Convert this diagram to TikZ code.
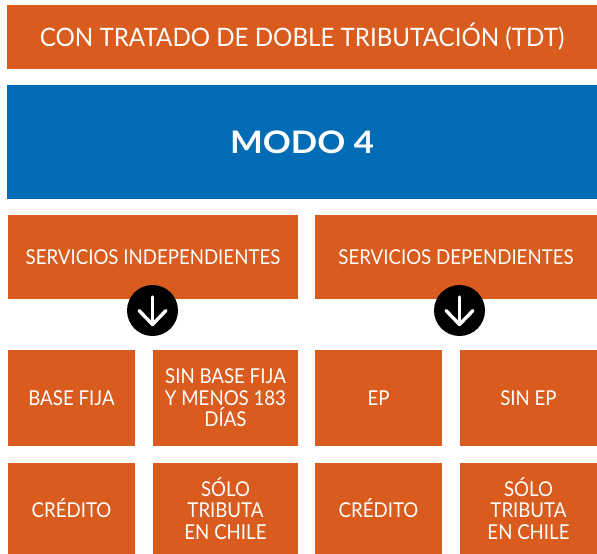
\documentclass[tikz,border=0pt]{standalone}
\usepackage{fontspec}
\setmainfont{Lato}
\newfontfamily\lightfont{Lato}[FakeStretch=0.91]
\newfontfamily\topfont{Lato}[FakeStretch=0.95]
\newfontfamily\boldfont{Lato Bold}[FakeStretch=1.12]
\definecolor{orangeA}{HTML}{D95B1E}
\definecolor{blueA}{HTML}{006CB6}
\begin{document}
\begin{tikzpicture}[x=1pt,y=-1pt,
  box/.style={fill=orangeA, text=white, inner sep=0pt, outer sep=0pt, anchor=north west, align=center,
    font=\lightfont\fontsize{20.5}{21.5}\selectfont},
  bluebox/.style={fill=blueA, text=white, inner sep=0pt, outer sep=0pt, anchor=north west,
    font=\boldfont\fontsize{31}{36}\selectfont},
  circ/.style={circle, fill=black, minimum size=51pt, inner sep=0pt},
  arr/.style={draw=white, line width=3.4pt, line cap=round, line join=round}
]
\useasboundingbox (0,0) rectangle (597,554);
\node[box, minimum width=590pt, minimum height=64pt, font=\topfont\fontsize{25.4}{28}\selectfont] (tdt) at (7,5) {CON TRATADO DE DOBLE TRIBUTACIÓN (TDT)};
\node[bluebox, minimum width=590pt, minimum height=114pt] (modo) at (7,85) {MODO 4};
\node[box, minimum width=290pt, minimum height=84pt] (indep) at (8,215) {SERVICIOS INDEPENDIENTES};
\node[box, minimum width=282pt, minimum height=84pt] (dep) at (315,215) {SERVICIOS DEPENDIENTES};
\node[box, minimum width=127pt, minimum height=96pt] (bf) at (8,350) {BASE FIJA};
\node[box, minimum width=145pt, minimum height=96pt] (sbf) at (153,350) {SIN BASE FIJA\\Y MENOS 183\\DÍAS};
\node[box, minimum width=127pt, minimum height=96pt] (ep) at (315,350) {EP};
\node[box, minimum width=137pt, minimum height=96pt] (sep) at (460,350) {SIN EP};
\node[box, minimum width=127pt, minimum height=91pt] (cr1) at (8,463) {CRÉDITO};
\node[box, minimum width=145pt, minimum height=91pt] (so1) at (153,463) {SÓLO\\TRIBUTA\\EN CHILE};
\node[box, minimum width=127pt, minimum height=91pt] (cr2) at (315,463) {CRÉDITO};
\node[box, minimum width=137pt, minimum height=91pt] (so2) at (460,463) {SÓLO\\TRIBUTA\\EN CHILE};
\node[circ] (c1) at (152.5,310.5) {};
\node[circ] (c2) at (459.5,310.5) {};
\foreach \c in {c1,c2}{
  \draw[arr] ([yshift=13.5pt]\c.center) -- ([yshift=-14pt]\c.center);
  \draw[arr] ([xshift=-13.5pt,yshift=0pt]\c.center) -- ([yshift=-14pt]\c.center) -- ([xshift=13.5pt,yshift=0pt]\c.center);
}
\end{tikzpicture}
\end{document}
